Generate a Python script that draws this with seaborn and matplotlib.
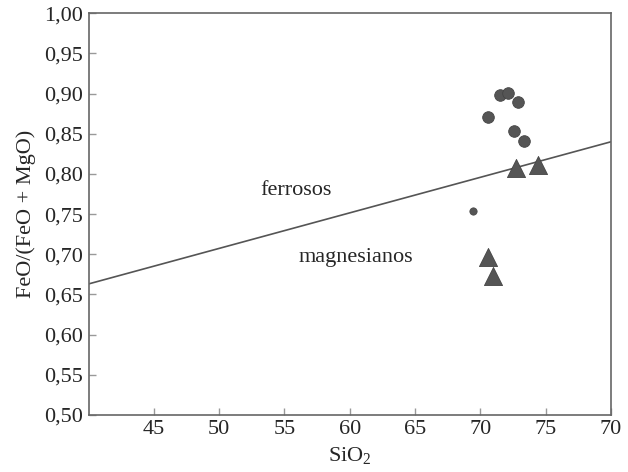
import matplotlib
matplotlib.use('Agg')
import matplotlib.pyplot as plt
import seaborn as sns

# ── DATOS ────────────────────────────────────────────────────
circ_x = [71.5, 72.1, 72.9, 70.6, 72.6, 73.3]
circ_y = [0.898, 0.901, 0.889, 0.871, 0.853, 0.841]
small_x = [69.4]
small_y = [0.754]
tri_x = [72.7, 74.4, 70.6, 71.0]
tri_y = [0.807, 0.811, 0.696, 0.673]
line_x = [40, 80]
line_y = [0.663, 0.840]
x_ticks = [45, 50, 55, 60, 65, 70, 75, 80]
x_labels = ['45', '50', '55', '60', '65', '70', '75', '70']
y_ticks = [0.50, 0.55, 0.60, 0.65, 0.70, 0.75, 0.80, 0.85, 0.90, 0.95, 1.00]

sns.set_theme(style='white')
plt.rcParams['font.family'] = ['Liberation Serif', 'DejaVu Serif']
plt.rcParams['mathtext.fontset'] = 'custom'
plt.rcParams['mathtext.rm'] = 'Liberation Serif'

fig = plt.figure(figsize=(6.28, 4.72), dpi=100)
ax = fig.add_axes([0.141, 0.121, 0.832, 0.851])

gris = '#555555'
sns.lineplot(x=line_x, y=line_y, ax=ax, color=gris, lw=1.2)
sns.scatterplot(x=circ_x, y=circ_y, ax=ax, marker='o', s=70,
                color=gris, edgecolor='#444444', linewidth=0.6, zorder=3)
sns.scatterplot(x=small_x, y=small_y, ax=ax, marker='o', s=28,
                color=gris, edgecolor='#444444', linewidth=0.5, zorder=3)
sns.scatterplot(x=tri_x, y=tri_y, ax=ax, marker='^', s=170,
                color=gris, edgecolor='#444444', linewidth=0.6, zorder=3)

ax.text(55.85, 0.774, 'ferrosos', ha='center', va='baseline', fontsize=16)
ax.text(60.5, 0.690, 'magnesianos', ha='center', va='baseline', fontsize=16)

ax.set_xlim(40, 80)
ax.set_ylim(0.50, 1.00)
ax.set_xticks(x_ticks)
ax.set_xticklabels(x_labels)
ax.set_yticks(y_ticks)
ax.set_yticklabels([f'{v:.2f}'.replace('.', ',') for v in y_ticks])
ax.tick_params(axis='both', direction='in', length=5, width=1,
               color='#999999', labelsize=16, pad=4,
               left=True, bottom=True)
for s in ax.spines.values():
    s.set_color('#666666')
    s.set_linewidth(1.2)

ax.set_xlabel(r'SiO$_\mathregular{2}$', fontsize=16, labelpad=4)
ax.set_ylabel('FeO/(FeO + MgO)', fontsize=16, labelpad=6)

plt.savefig('out.png', dpi=100)
plt.close()
